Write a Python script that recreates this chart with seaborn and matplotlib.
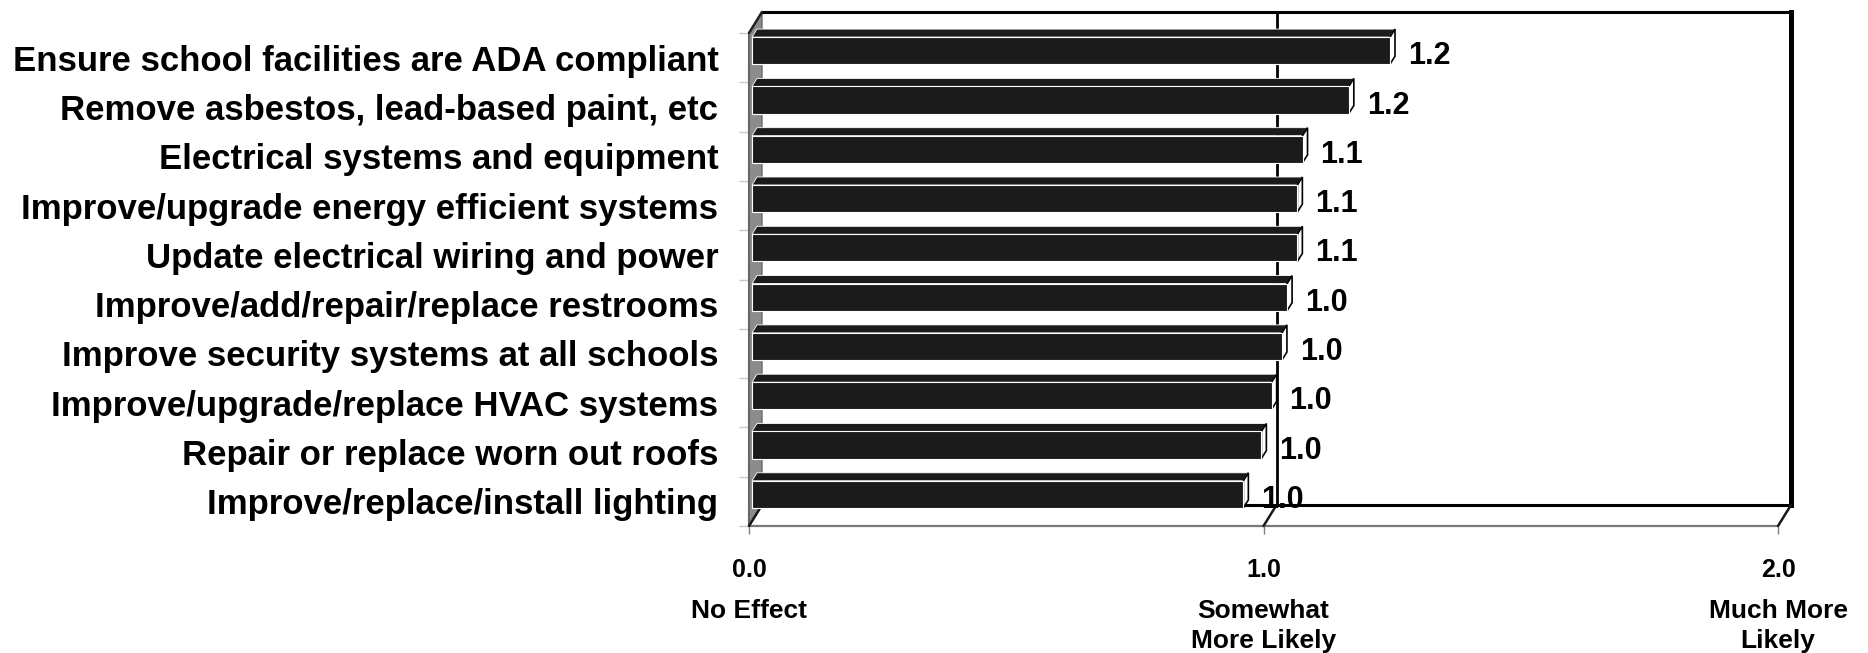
import matplotlib
matplotlib.use("Agg")
import matplotlib.pyplot as plt
import matplotlib.transforms as mtransforms
from matplotlib.patches import Polygon
from matplotlib.lines import Line2D
import pandas as pd
import seaborn as sns

# ---- data -------------------------------------------------------------
categories = [
    "Ensure school facilities are ADA compliant",
    "Remove asbestos, lead-based paint, etc",
    "Electrical systems and equipment",
    "Improve/upgrade energy efficient systems",
    "Update electrical wiring and power",
    "Improve/add/repair/replace restrooms",
    "Improve security systems at all schools",
    "Improve/upgrade/replace HVAC systems",
    "Repair or replace worn out roofs",
    "Improve/replace/install lighting",
]
scores = [1.24, 1.16, 1.07, 1.06, 1.06, 1.04, 1.03, 1.01, 0.99, 0.955]
tick_values = [0.0, 1.0, 2.0]
tick_labels = ["0.0", "1.0", "2.0"]
scale_labels = [["No Effect"], ["Somewhat", "More Likely"], ["Much More", "Likely"]]

# ---- figure -----------------------------------------------------------
W, H, DPI = 1868, 653, 100
sns.set_theme(style="white")
plt.rcParams["font.family"] = ["Liberation Sans", "DejaVu Sans"]
plt.rcParams["font.weight"] = "bold"
plt.rcParams["text.color"] = "black"
plt.rcParams["xtick.labelcolor"] = "black"
plt.rcParams["ytick.labelcolor"] = "black"

fig = plt.figure(figsize=(W / DPI, H / DPI), dpi=DPI)
fig.patch.set_facecolor("white")

# front plane of the box, in pixels measured from the top-left corner
FX0, FX1, FY0, FY1 = 749, 1778, 33, 526
ax = fig.add_axes([FX0 / W, 1 - FY1 / H, (FX1 - FX0) / W, (FY1 - FY0) / H])

BAR_COLOR = "#1b1b1b"
df = pd.DataFrame({"item": categories, "score": scores})
sns.barplot(data=df, x="score", y="item", orient="h", color=BAR_COLOR,
            saturation=1, width=0.55, edgecolor="white", linewidth=0.8,
            ax=ax, zorder=6)

ax.set_xlim(0, 2)
ax.set_ylim(len(categories) - 0.5, -0.5)
ax.patch.set_visible(False)
for s in ax.spines.values():
    s.set_visible(False)
ax.set_xlabel("")
ax.set_ylabel("")
ax.grid(False)

# depth of the box and of the bars, in pixels (x right, y up)
WALL = (13, 21)
BAR_D = (5, 8)
BAR_SHIFT = (3, 7)
ID = mtransforms.IdentityTransform()


def D(x, y):
    px, py = ax.transData.transform((x, y))
    return px, py


def add(p, d):
    return (p[0] + d[0], p[1] + d[1])


def poly(verts, **kw):
    p = Polygon(verts, closed=True, transform=ID, clip_on=False, **kw)
    ax.add_patch(p)
    return p


def seg(p0, p1, **kw):
    ln = Line2D([p0[0], p1[0]], [p0[1], p1[1]], transform=ID, clip_on=False, **kw)
    ax.add_line(ln)
    return ln


y_lo, y_hi = ax.get_ylim()
bl, tl = D(0, y_lo), D(0, y_hi)
br, tr = D(2, y_lo), D(2, y_hi)

# back wall
poly([add(bl, WALL), add(br, WALL), add(tr, WALL), add(tl, WALL)],
     facecolor="white", edgecolor="none", zorder=0.5)
# floor
poly([bl, br, add(br, WALL), add(bl, WALL)], facecolor="white",
     edgecolor="#8a8a8a", linewidth=1.2, zorder=1)
# left wall
poly([bl, tl, add(tl, WALL), add(bl, WALL)], facecolor="#8c8c8c",
     edgecolor="#6a6a6a", linewidth=1.0, zorder=1)

# back wall outline
seg(add(tl, WALL), add(tr, WALL), color="black", linewidth=2.2, zorder=2,
    solid_capstyle="projecting")
seg(add(br, WALL), add(tr, WALL), color="black", linewidth=3.6, zorder=2,
    solid_capstyle="projecting")
seg(add(bl, WALL), add(br, WALL), color="black", linewidth=2.2, zorder=2)
seg(bl, br, color="#7a7a7a", linewidth=1.6, zorder=2)
seg(bl, tl, color="#666666", linewidth=1.5, zorder=2)
seg(tl, add(tl, WALL), color="#222222", linewidth=1.8, zorder=2)

# gridlines on the back wall and their traces across the floor
for v in tick_values:
    f0 = D(v, y_lo)
    seg(f0, add(f0, WALL), color="#1a1a1a", linewidth=1.8, zorder=2)
    if 0 < v < 2:
        seg(add(f0, WALL), add(D(v, y_hi), WALL), color="black",
            linewidth=2.0, zorder=2)

# 3-D bars: shift the front faces, then add top and side faces
shift = mtransforms.Affine2D().translate(*BAR_SHIFT)
for p in list(ax.patches):
    if not hasattr(p, "get_width") or p.get_transform() is ID:
        continue
    x0, y0, w, h = p.get_x(), p.get_y(), p.get_width(), p.get_height()
    a = add(D(x0, y0), BAR_SHIFT)
    b = add(D(x0 + w, y0 + h), BAR_SHIFT)
    L, R = min(a[0], b[0]), max(a[0], b[0])
    B, T = min(a[1], b[1]), max(a[1], b[1])
    p.set_transform(ax.transData + shift)
    poly([(L, T), (R, T), add((R, T), BAR_D), add((L, T), BAR_D)],
         facecolor=BAR_COLOR, edgecolor="white", linewidth=0.6, zorder=5)
    poly([(R, B), (R, T), add((R, T), BAR_D), add((R, B), BAR_D)],
         facecolor="white", edgecolor="black", linewidth=1.2, zorder=5)

# value labels
for i, v in enumerate(scores):
    ax.annotate(f"{v:.1f}", xy=(v, i), xytext=(15, 3.5),
                textcoords="offset points", ha="left", va="center_baseline",
                fontsize=22, fontweight="bold", color="black", zorder=7,
                annotation_clip=False)

# category axis
ax.set_yticks(range(len(categories)), labels=categories)
ax.set_yticks([i - 0.5 for i in range(len(categories) + 1)], minor=True)
ax.tick_params(axis="y", which="major", length=0, pad=22, labelsize=25,
               labelcolor="black")
ax.tick_params(axis="y", which="minor", left=True, length=7, width=1,
               color="#c8c8c8")
for lab in ax.get_yticklabels():
    lab.set_fontweight("bold")
    lab.set_color("black")

# value axis
ax.set_xticks(tick_values, labels=tick_labels)
ax.tick_params(axis="x", which="major", bottom=True, length=6, width=1,
               color="#808080", pad=17, labelsize=18, labelcolor="black")
for lab in ax.get_xticklabels():
    lab.set_fontweight("bold")
    lab.set_color("black")

for v, lines in zip(tick_values, scale_labels):
    for k, line in enumerate(lines):
        ax.annotate(line, xy=(v, 0), xycoords=("data", "axes fraction"),
                    xytext=(0, -66 - 21.5 * k), textcoords="offset points",
                    ha="center", va="baseline", fontsize=19,
                    fontweight="bold", color="black", annotation_clip=False)

fig.savefig("out.png", dpi=DPI, facecolor="white")
